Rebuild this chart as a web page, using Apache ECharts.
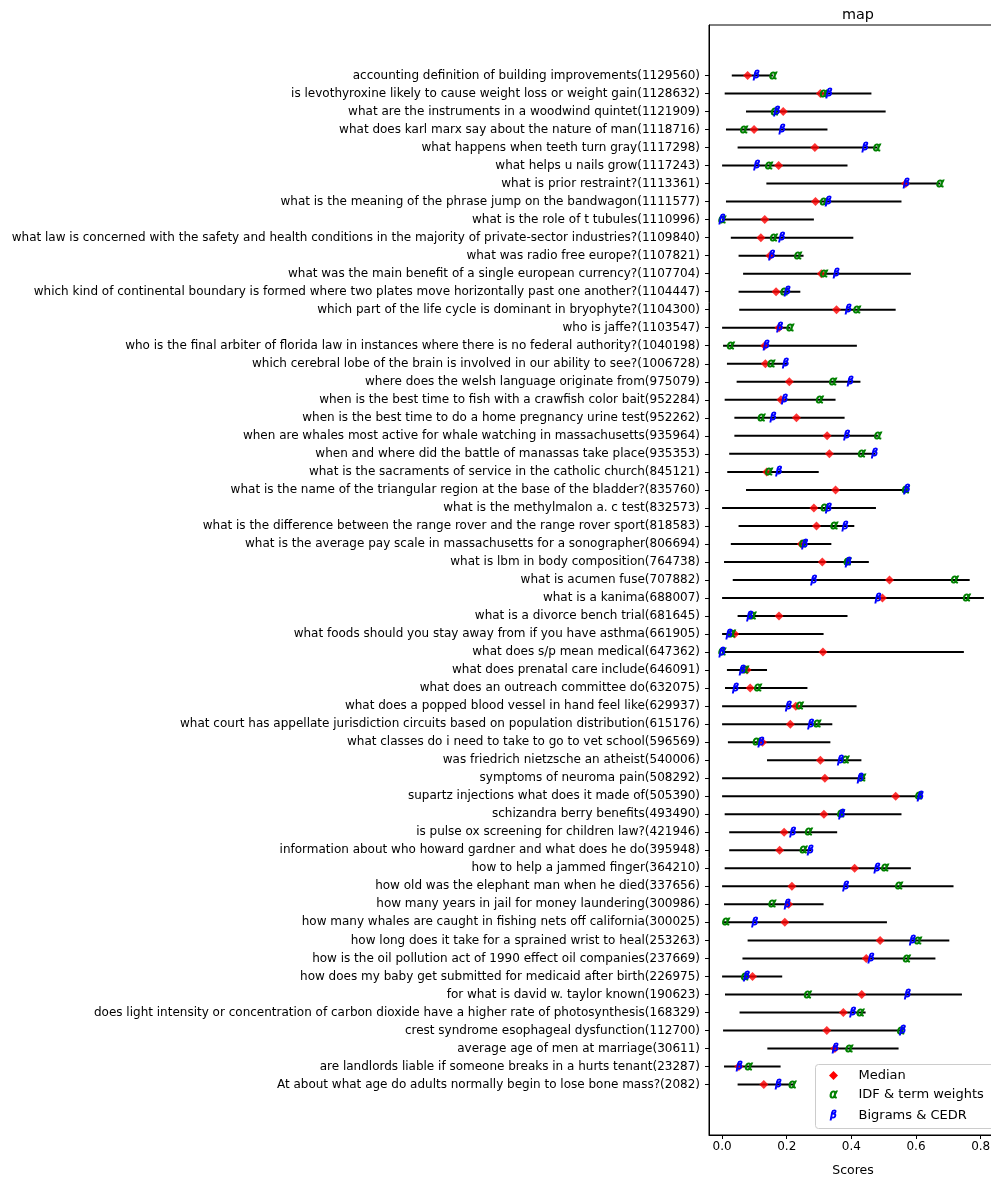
<!DOCTYPE html>
<html>
<head>
<meta charset="utf-8">
<script src="https://cdn.jsdelivr.net/npm/echarts@6/dist/echarts.min.js"></script>
<style>
  html, body { margin: 0; padding: 0; background: #fff; }
  #chart { width: 991px; height: 1178px; }
</style>
</head>
<body>
<div id="chart"></div>
<script>
// Query labels, top to bottom
const queries = [
  "accounting definition of building improvements(1129560)",
  "is levothyroxine likely to cause weight loss or weight gain(1128632)",
  "what are the instruments in a woodwind quintet(1121909)",
  "what does karl marx say about the nature of man(1118716)",
  "what happens when teeth turn gray(1117298)",
  "what helps u nails grow(1117243)",
  "what is prior restraint?(1113361)",
  "what is the meaning of the phrase jump on the bandwagon(1111577)",
  "what is the role of t tubules(1110996)",
  "what law is concerned with the safety and health conditions in the majority of private-sector industries?(1109840)",
  "what was radio free europe?(1107821)",
  "what was the main benefit of a single european currency?(1107704)",
  "which kind of continental boundary is formed where two plates move horizontally past one another?(1104447)",
  "which part of the life cycle is dominant in bryophyte?(1104300)",
  "who is jaffe?(1103547)",
  "who is the final arbiter of florida law in instances where there is no federal authority?(1040198)",
  "which cerebral lobe of the brain is involved in our ability to see?(1006728)",
  "where does the welsh language originate from(975079)",
  "when is the best time to fish with a crawfish color bait(952284)",
  "when is the best time to do a home pregnancy urine test(952262)",
  "when are whales most active for whale watching in massachusetts(935964)",
  "when and where did the battle of manassas take place(935353)",
  "what is the sacraments of service in the catholic church(845121)",
  "what is the name of the triangular region at the base of the bladder?(835760)",
  "what is the methylmalon a. c test(832573)",
  "what is the difference between the range rover and the range rover sport(818583)",
  "what is the average pay scale in massachusetts for a sonographer(806694)",
  "what is lbm in body composition(764738)",
  "what is acumen fuse(707882)",
  "what is a kanima(688007)",
  "what is a divorce bench trial(681645)",
  "what foods should you stay away from if you have asthma(661905)",
  "what does s/p mean medical(647362)",
  "what does prenatal care include(646091)",
  "what does an outreach committee do(632075)",
  "what does a popped blood vessel in hand feel like(629937)",
  "what court has appellate jurisdiction circuits based on population distribution(615176)",
  "what classes do i need to take to go to vet school(596569)",
  "was friedrich nietzsche an atheist(540006)",
  "symptoms of neuroma pain(508292)",
  "supartz injections what does it made of(505390)",
  "schizandra berry benefits(493490)",
  "is pulse ox screening for children law?(421946)",
  "information about who howard gardner and what does he do(395948)",
  "how to help a jammed finger(364210)",
  "how old was the elephant man when he died(337656)",
  "how many years in jail for money laundering(300986)",
  "how many whales are caught in fishing nets off california(300025)",
  "how long does it take for a sprained wrist to heal(253263)",
  "how is the oil pollution act of 1990 effect oil companies(237669)",
  "how does my baby get submitted for medicaid after birth(226975)",
  "for what is david w. taylor known(190623)",
  "does light intensity or concentration of carbon dioxide have a higher rate of photosynthesis(168329)",
  "crest syndrome esophageal dysfunction(112700)",
  "average age of men at marriage(30611)",
  "are landlords liable if someone breaks in a hurts tenant(23287)",
  "At about what age do adults normally begin to lose bone mass?(2082)"
];

// Score range per query (lowest and highest run)
const rangeMin = [
  0.030, 0.008, 0.074, 0.012, 0.048, 0.000, 0.137, 0.012, 0.000, 0.027,
  0.051, 0.065, 0.051, 0.053, 0.000, 0.003, 0.015, 0.045, 0.008, 0.038,
  0.038, 0.022, 0.016, 0.074, 0.000, 0.051, 0.027, 0.006, 0.033, 0.000,
  0.048, 0.000, 0.000, 0.015, 0.009, 0.000, 0.000, 0.018, 0.139, 0.000,
  0.000, 0.008, 0.022, 0.022, 0.008, 0.000, 0.006, 0.003, 0.079, 0.063,
  0.000, 0.009, 0.054, 0.003, 0.140, 0.006, 0.048
];
const rangeMax = [
  0.157, 0.462, 0.506, 0.326, 0.480, 0.388, 0.675, 0.555, 0.284, 0.406,
  0.252, 0.584, 0.242, 0.537, 0.211, 0.417, 0.205, 0.428, 0.351, 0.379,
  0.482, 0.474, 0.299, 0.575, 0.476, 0.409, 0.338, 0.454, 0.766, 0.810,
  0.388, 0.314, 0.748, 0.139, 0.264, 0.416, 0.341, 0.335, 0.431, 0.443,
  0.621, 0.555, 0.356, 0.276, 0.584, 0.716, 0.314, 0.510, 0.703, 0.660,
  0.186, 0.742, 0.444, 0.560, 0.546, 0.181, 0.220
];

// Median score per query
const median = [
  0.079, 0.304, 0.189, 0.099, 0.287, 0.175, 0.568, 0.289, 0.132, 0.120,
  0.148, 0.307, 0.167, 0.354, 0.176, 0.132, 0.134, 0.208, 0.182, 0.230,
  0.325, 0.332, 0.138, 0.351, 0.284, 0.292, 0.245, 0.310, 0.518, 0.496,
  0.176, 0.039, 0.312, 0.077, 0.087, 0.228, 0.211, 0.125, 0.304, 0.318,
  0.537, 0.315, 0.192, 0.178, 0.410, 0.216, 0.206, 0.194, 0.489, 0.446,
  0.094, 0.432, 0.375, 0.324, 0.349, 0.052, 0.129
];

// IDF & term weights run
const idfTerm = [
  0.158, 0.314, 0.163, 0.068, 0.479, 0.145, 0.675, 0.314, 0.000, 0.160,
  0.235, 0.315, 0.192, 0.417, 0.211, 0.027, 0.152, 0.343, 0.302, 0.122,
  0.482, 0.432, 0.145, 0.568, 0.317, 0.347, 0.250, 0.388, 0.720, 0.757,
  0.094, 0.030, 0.000, 0.071, 0.111, 0.240, 0.294, 0.106, 0.382, 0.433,
  0.609, 0.368, 0.268, 0.252, 0.504, 0.547, 0.155, 0.012, 0.606, 0.571,
  0.071, 0.265, 0.428, 0.553, 0.393, 0.082, 0.218
];

// Bigrams & CEDR run
const bigramsCedr = [
  0.106, 0.331, 0.170, 0.186, 0.443, 0.108, 0.570, 0.329, 0.000, 0.185,
  0.154, 0.354, 0.202, 0.391, 0.179, 0.137, 0.197, 0.397, 0.194, 0.158,
  0.386, 0.472, 0.176, 0.572, 0.330, 0.381, 0.256, 0.391, 0.284, 0.483,
  0.086, 0.022, 0.000, 0.063, 0.042, 0.206, 0.275, 0.121, 0.367, 0.428,
  0.614, 0.371, 0.219, 0.273, 0.480, 0.383, 0.202, 0.102, 0.590, 0.461,
  0.076, 0.574, 0.405, 0.559, 0.351, 0.054, 0.174
];

const xTicks = [0.0, 0.2, 0.4, 0.6, 0.8];

const FONT = '"DejaVu Sans", sans-serif';
const ALPHA_FONT = 'italic 12px ' + FONT;
const BETA_FONT = 'italic 10px ' + FONT;
const rows = queries.map((_, i) => i);

const chart = echarts.init(document.getElementById('chart'), null, { renderer: 'canvas' });

// glyph marker style: filled and outlined in the same colour
function glyphStyle(glyph, color, font, x, y) {
  return {
    text: glyph,
    x: x,
    y: y,
    fill: color,
    stroke: color,
    lineWidth: 1,
    font: font,
    align: 'center',
    verticalAlign: 'middle'
  };
}

// draws a glyph marker centred on a data point
function glyphRenderer(glyph, color, font) {
  return function (params, api) {
    const p = api.coord([api.value(0), api.value(1)]);
    return { type: 'text', style: glyphStyle(glyph, color, font, p[0], p[1]) };
  };
}

const LEG_X = 815, LEG_Y = 1064;

const option = {
  animation: false,
  backgroundColor: '#ffffff',
  title: {
    text: 'map',
    left: 853,
    top: 3,
    textAlign: 'center',
    textStyle: { fontFamily: FONT, fontSize: 14.4, fontWeight: 'normal', color: '#000' }
  },
  grid: {
    left: 709,
    right: -6,
    top: 25,
    bottom: 43,
    containLabel: false,
    outerBoundsMode: 'none',
    show: true,
    borderColor: '#000',
    borderWidth: 1,
    backgroundColor: 'transparent'
  },
  xAxis: {
    type: 'value',
    min: -0.0405,
    max: 0.8505,
    name: 'Scores',
    nameLocation: 'middle',
    nameGap: 29,
    nameTextStyle: { fontFamily: FONT, fontSize: 12.5, color: '#000' },
    axisLine: { show: true, onZero: false, lineStyle: { color: '#000', width: 1 } },
    axisTick: { show: true, length: 4, customValues: xTicks, lineStyle: { color: '#000' } },
    axisLabel: {
      customValues: xTicks,
      formatter: v => Number(v).toFixed(1),
      fontFamily: FONT, fontSize: 12, color: '#000', margin: 6
    },
    splitLine: { show: false }
  },
  yAxis: {
    type: 'value',
    min: -2.8,
    max: 58.8,
    inverse: true,
    axisLine: { show: true, onZero: false, lineStyle: { color: '#000', width: 1 } },
    axisTick: { show: true, length: 4, customValues: rows, lineStyle: { color: '#000' } },
    axisLabel: {
      customValues: rows,
      formatter: v => queries[Math.round(v)] || '',
      fontFamily: FONT, fontSize: 12, color: '#000', margin: 9
    },
    splitLine: { show: false }
  },
  series: [
    {
      name: 'range',
      type: 'custom',
      silent: true,
      data: rows.map(i => [rangeMin[i], rangeMax[i], i]),
      encode: { x: [0, 1], y: 2 },
      renderItem: function (params, api) {
        const a = api.coord([api.value(0), api.value(2)]);
        const b = api.coord([api.value(1), api.value(2)]);
        return {
          type: 'line',
          shape: { x1: a[0], y1: a[1], x2: b[0], y2: b[1] },
          style: { stroke: '#000', lineWidth: 2 }
        };
      },
      z: 1
    },
    {
      name: 'Median',
      type: 'scatter',
      silent: true,
      symbol: 'diamond',
      symbolSize: 9,
      itemStyle: { color: '#ff0000' },
      data: rows.map(i => [median[i], i]),
      z: 2
    },
    {
      name: 'IDF & term weights',
      type: 'custom',
      silent: true,
      data: rows.map(i => [idfTerm[i], i]),
      encode: { x: 0, y: 1 },
      renderItem: glyphRenderer('α', '#008000', ALPHA_FONT),
      z: 3
    },
    {
      name: 'Bigrams & CEDR',
      type: 'custom',
      silent: true,
      data: rows.map(i => [bigramsCedr[i], i]),
      encode: { x: 0, y: 1 },
      renderItem: glyphRenderer('β', '#0000ff', BETA_FONT),
      z: 4
    }
  ],
  graphic: [
    {
      type: 'group',
      left: LEG_X,
      top: LEG_Y,
      z: 100,
      children: [
        {
          type: 'rect',
          shape: { x: 0, y: 0, width: 180, height: 64, r: 3 },
          style: { fill: 'rgba(255,255,255,0.8)', stroke: '#cccccc', lineWidth: 1 }
        },
        {
          type: 'polygon',
          shape: { points: [[18, 6.5], [22.5, 11], [18, 15.5], [13.5, 11]] },
          style: { fill: '#ff0000' }
        },
        { type: 'text', style: glyphStyle('α', '#008000', ALPHA_FONT, 18, 30) },
        { type: 'text', style: glyphStyle('β', '#0000ff', BETA_FONT, 18, 51) },
        {
          type: 'text',
          style: { text: 'Median', x: 43, y: 11, fill: '#000', font: '13px ' + FONT, verticalAlign: 'middle' }
        },
        {
          type: 'text',
          style: { text: 'IDF & term weights', x: 43, y: 30, fill: '#000', font: '13px ' + FONT, verticalAlign: 'middle' }
        },
        {
          type: 'text',
          style: { text: 'Bigrams & CEDR', x: 43, y: 51, fill: '#000', font: '13px ' + FONT, verticalAlign: 'middle' }
        }
      ]
    }
  ]
};

chart.setOption(option);
</script>
</body>
</html>
